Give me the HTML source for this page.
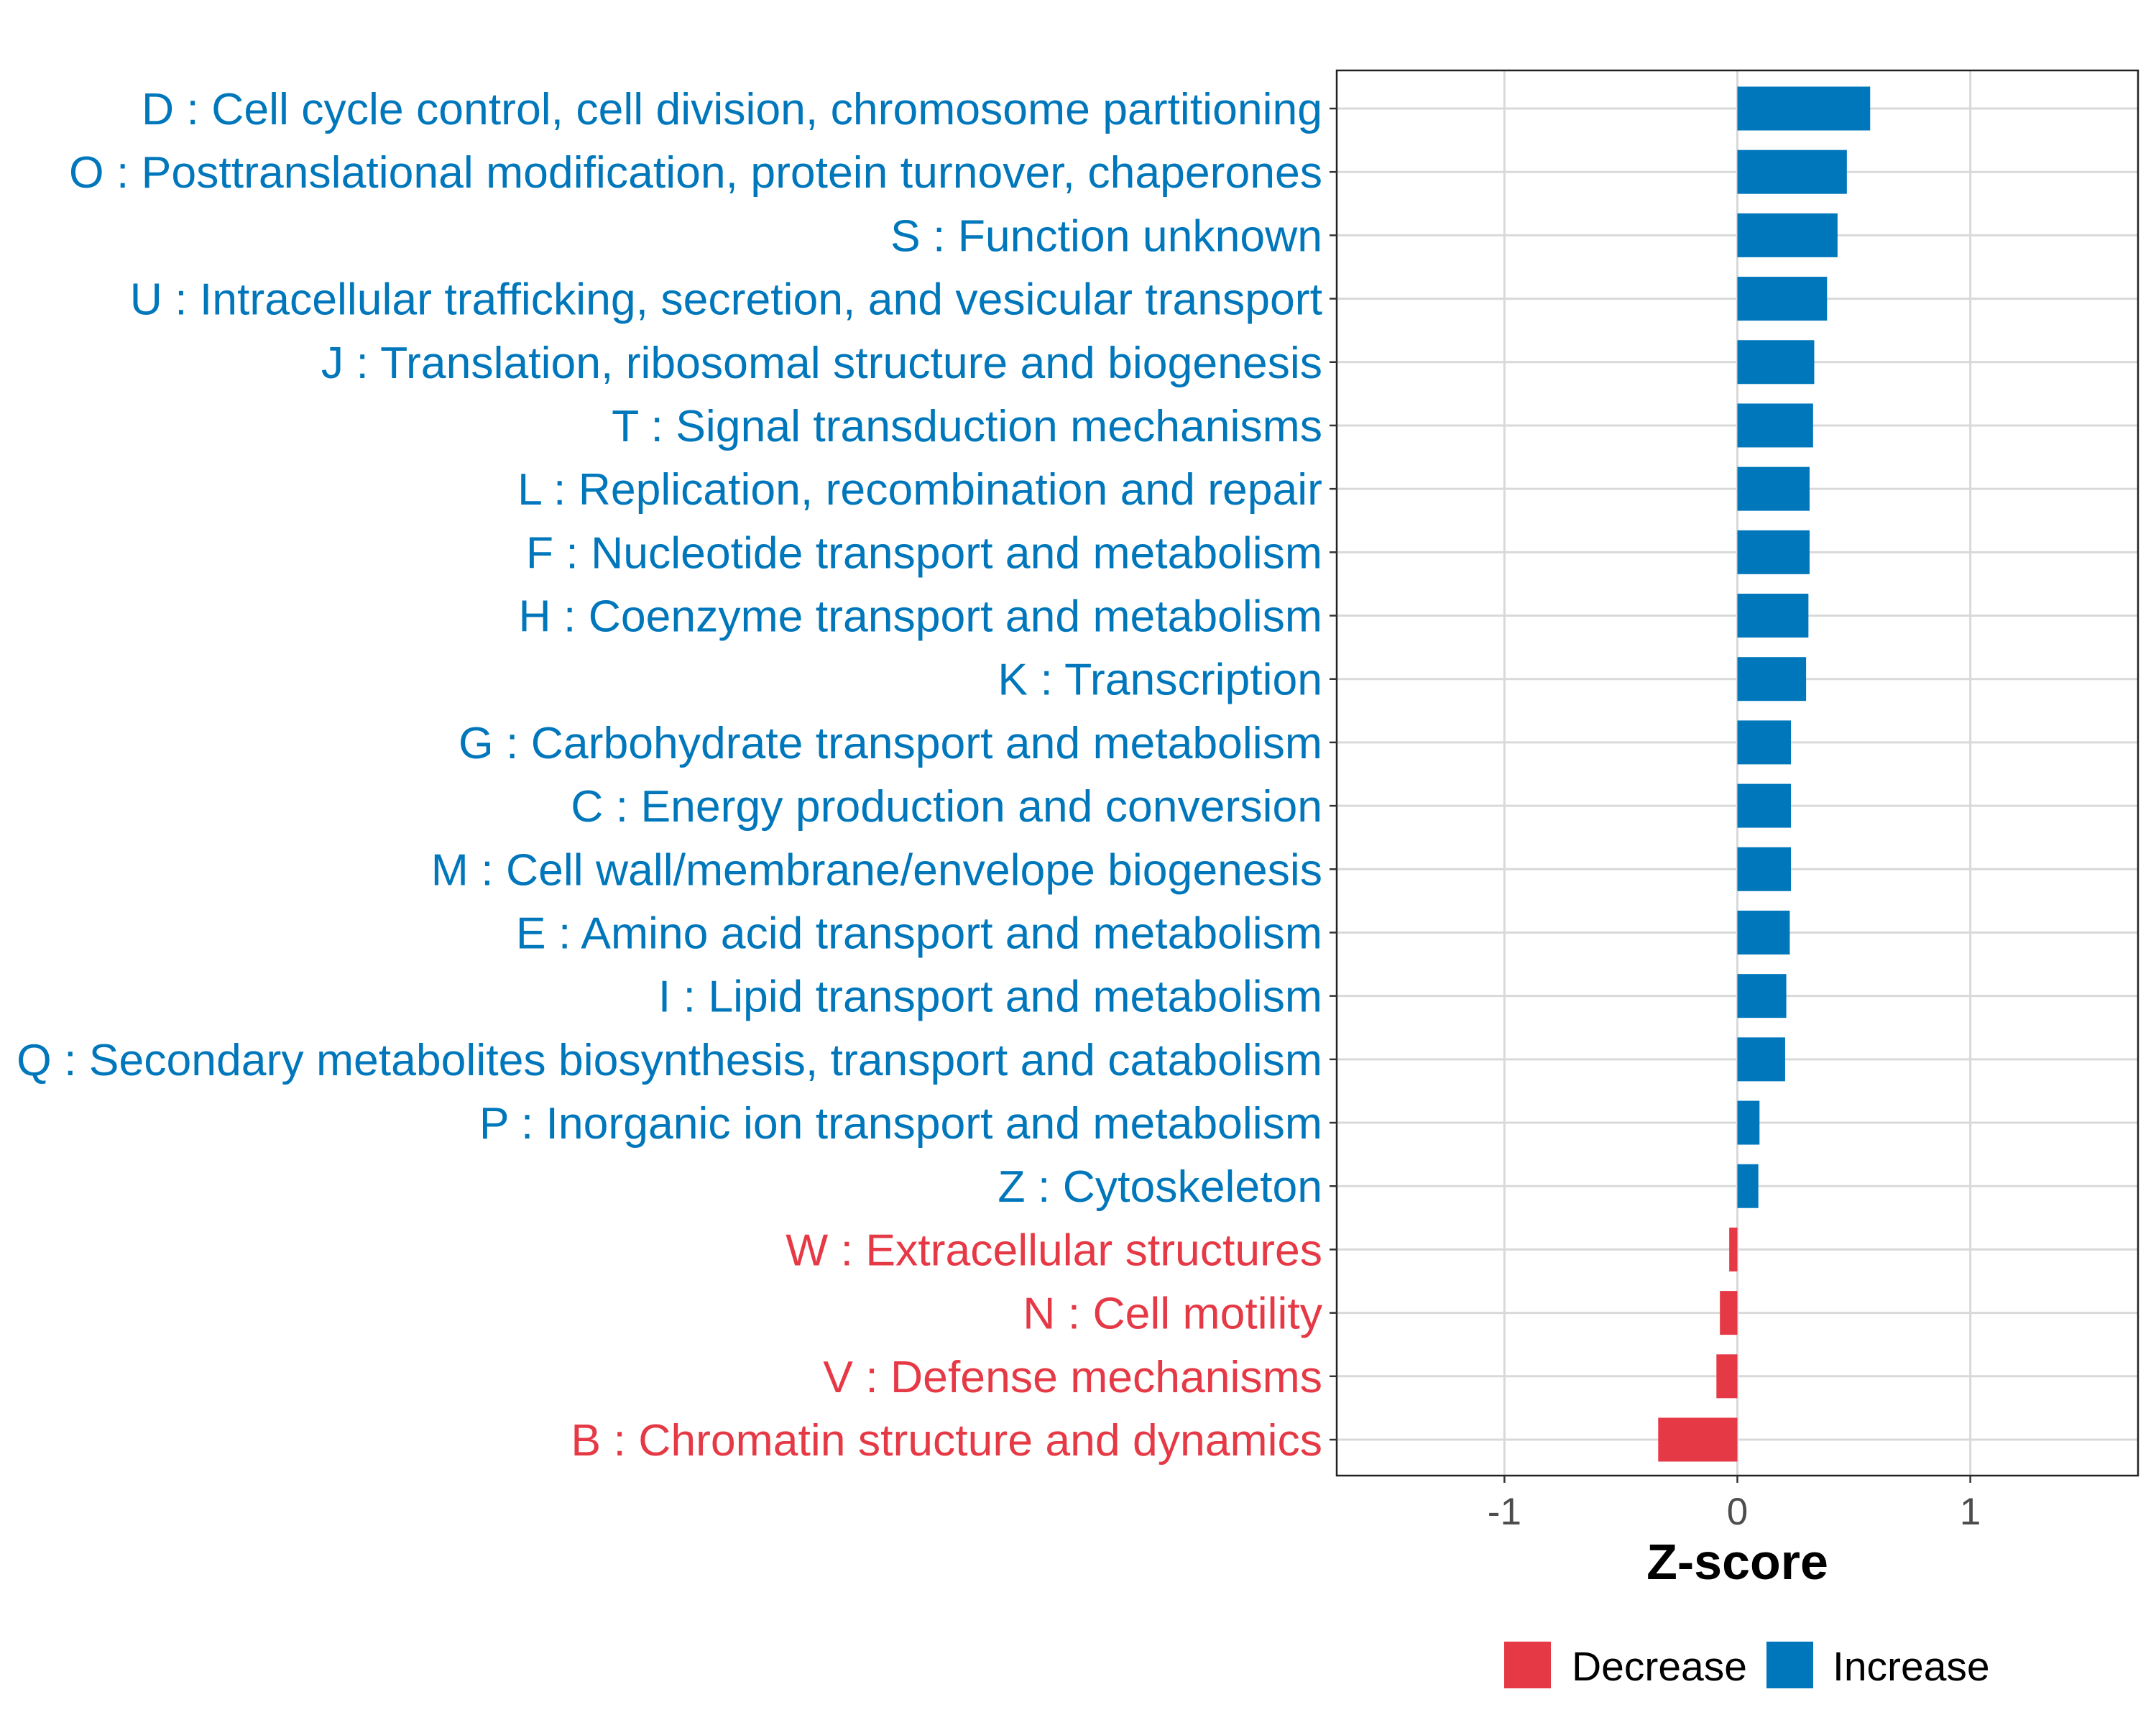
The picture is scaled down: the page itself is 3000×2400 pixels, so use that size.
<!DOCTYPE html>
<html><head><meta charset="utf-8"><style>
body{margin:0;background:#fff}
svg{display:block;font-family:"Liberation Sans",sans-serif}
</style></head><body>
<svg id="chart" width="3000" height="2400" viewBox="0 0 3000 2400" xmlns="http://www.w3.org/2000/svg"></svg>
<script>
const categories=["D : Cell cycle control, cell division, chromosome partitioning","O : Posttranslational modification, protein turnover, chaperones","S : Function unknown","U : Intracellular trafficking, secretion, and vesicular transport","J : Translation, ribosomal structure and biogenesis","T : Signal transduction mechanisms","L : Replication, recombination and repair","F : Nucleotide transport and metabolism","H : Coenzyme transport and metabolism","K : Transcription","G : Carbohydrate transport and metabolism","C : Energy production and conversion","M : Cell wall/membrane/envelope biogenesis","E : Amino acid transport and metabolism","I : Lipid transport and metabolism","Q : Secondary metabolites biosynthesis, transport and catabolism","P : Inorganic ion transport and metabolism","Z : Cytoskeleton","W : Extracellular structures","N : Cell motility","V : Defense mechanisms","B : Chromatin structure and dynamics"];
const values=[0.57,0.47,0.43,0.385,0.33,0.325,0.31,0.31,0.305,0.295,0.23,0.23,0.23,0.225,0.21,0.205,0.095,0.09,-0.035,-0.075,-0.09,-0.34];
const xTicks=[-1,0,1];
const xTickLabels=["-1","0","1"];
const legendLabels=["Decrease","Increase"];

const NS="http://www.w3.org/2000/svg";
const svg=document.getElementById('chart');
const BLUE="#0077BB",RED="#E63946";
const L=1860,R=2975,T=98,B=2053,xmin=-1.72,xmax=1.72;
const x=v=>L+(v-xmin)/(xmax-xmin)*(R-L);
const first=151,last=2003;
const step=(last-first)/(categories.length-1);
const y=i=>first+step*i;
function el(tag,attrs,txt){const e=document.createElementNS(NS,tag);for(const k in attrs)e.setAttribute(k,attrs[k]);if(txt!==undefined)e.textContent=txt;svg.appendChild(e);return e;}

xTicks.forEach((t,i)=>{
  const g=el('line',{x1:x(t),x2:x(t),y1:T,y2:B,stroke:'#d9d9d9','stroke-width':3});
  
  
});
categories.forEach((c,i)=>{
  const g=el('line',{x1:L,x2:R,y1:y(i),y2:y(i),stroke:'#d9d9d9','stroke-width':3});
  
  
});
const bh=61;
values.forEach((v,i)=>{
  const r=el('rect',{x:Math.min(x(0),x(v)),y:y(i)-bh/2,width:Math.abs(x(v)-x(0)),height:bh,fill:v<0?RED:BLUE});
  
  
});
const pb=el('rect',{x:L,y:T,width:R-L,height:B-T,fill:'none',stroke:'#222','stroke-width':2.5});


categories.forEach((c,i)=>{
  el('line',{x1:L-10,x2:L,y1:y(i),y2:y(i),stroke:'#333','stroke-width':2.5});
  const t=el('text',{x:1840,y:y(i)+22,'text-anchor':'end','font-size':62.5,fill:values[i]<0?RED:BLUE},c);
  
  
});
xTicks.forEach((t,i)=>{
  el('line',{x1:x(t),x2:x(t),y1:B,y2:B+10,stroke:'#333','stroke-width':2.5});
  const tx=el('text',{x:x(t),y:2121,'text-anchor':'middle','font-size':53,fill:'#4d4d4d'},xTickLabels[i]);
  
  
});
const xt=el('text',{x:x(0),y:2197,'text-anchor':'middle','font-size':70,'font-weight':'bold',fill:'#000'},'Z-score');


[[2093,RED,2187],[2458,BLUE,2550]].forEach((p,i)=>{
  const s=el('rect',{x:p[0],y:2284,width:65,height:65,fill:p[1]});
  
  
  const t=el('text',{x:p[2],y:2338,'font-size':57,fill:'#000'},legendLabels[i]);
  
  
});
</script>
</body></html>
